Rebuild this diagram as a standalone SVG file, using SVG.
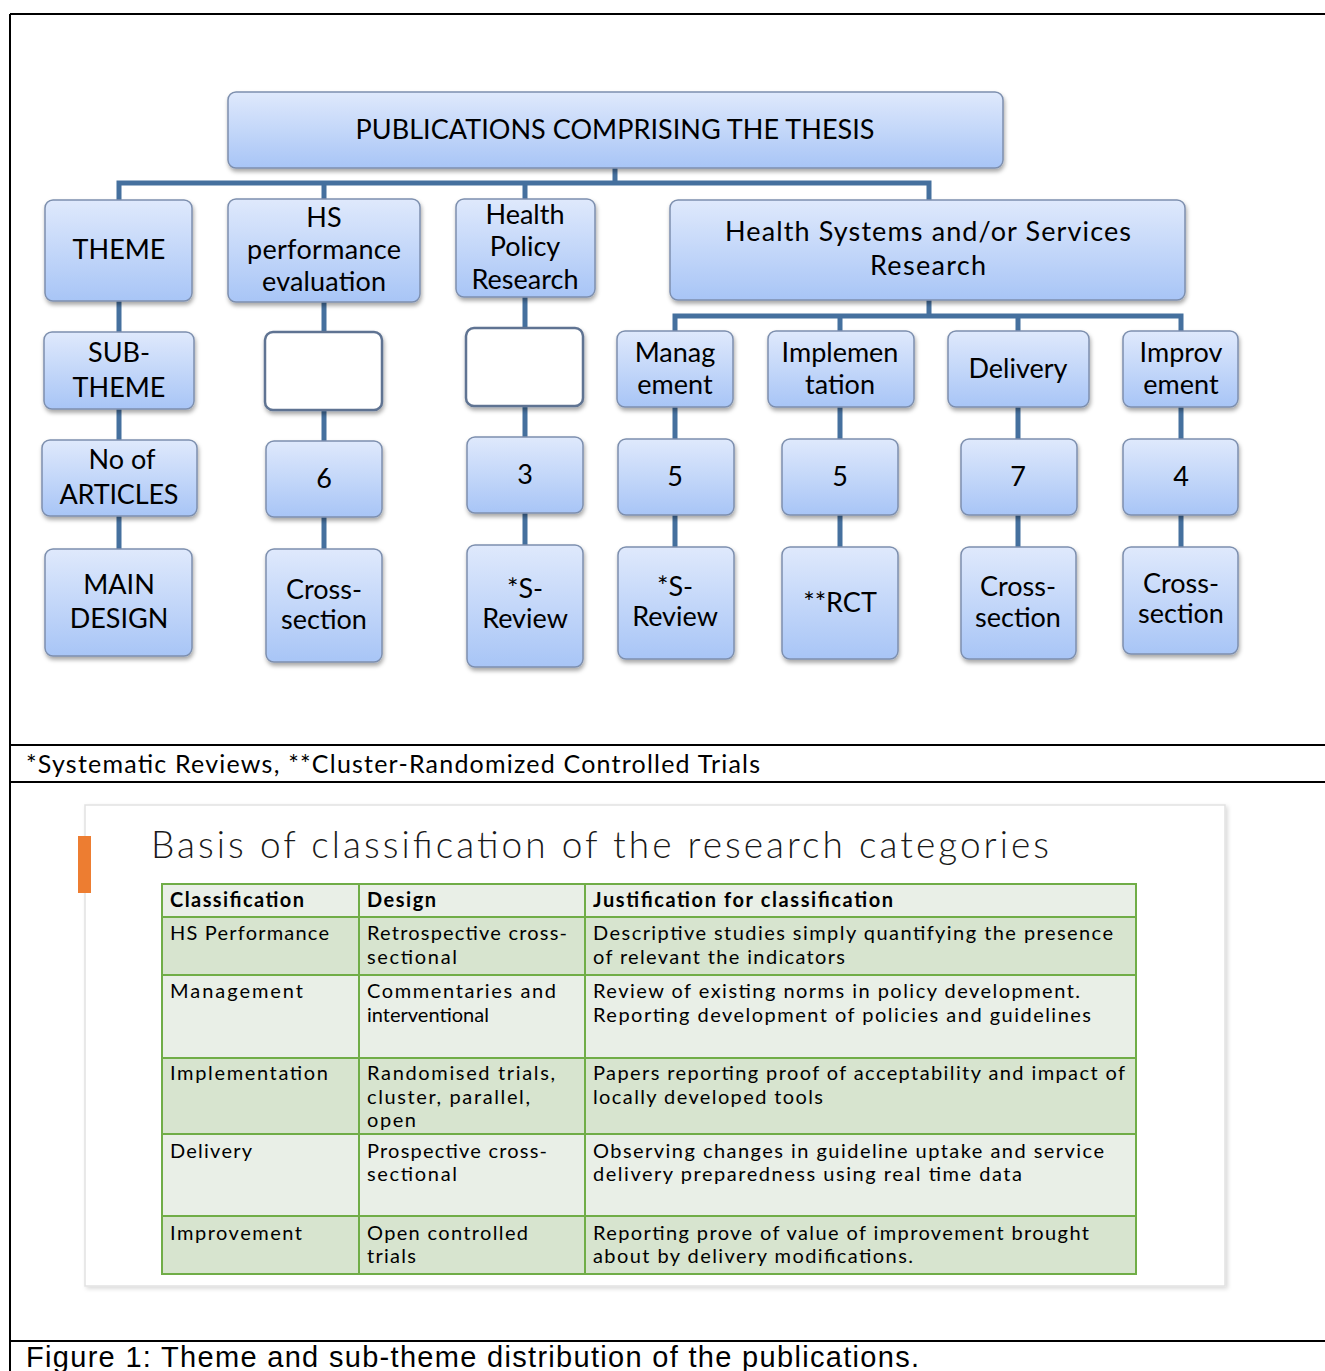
<svg xmlns="http://www.w3.org/2000/svg" width="1325" height="1371" viewBox="0 0 1325 1371">
<defs>
<linearGradient id="bg" x1="0" y1="0" x2="0" y2="1">
<stop offset="0" stop-color="#dfe9fc"/>
<stop offset="1" stop-color="#a8c5f6"/>
</linearGradient>
<filter id="sh" x="-10%" y="-10%" width="130%" height="140%">
<feDropShadow dx="1" dy="3" stdDeviation="2" flood-color="#000" flood-opacity="0.35"/>
</filter>
<filter id="sh2" x="-5%" y="-5%" width="110%" height="110%">
<feDropShadow dx="2" dy="2" stdDeviation="2" flood-color="#000" flood-opacity="0.15"/>
</filter>
<style>
.box{fill:url(#bg);stroke:#7d8fae;stroke-width:1.5;filter:url(#sh)}
.empty{fill:#fff;stroke:#5f7392;stroke-width:2.5;filter:url(#sh)}
.lbl{font-family:Lato,"Open Sans",sans-serif;font-size:27px;fill:#000;text-anchor:middle}
.conn{stroke:#45709e;stroke-width:5;fill:none}
.frame{stroke:#000;stroke-width:2;fill:none}
.td{font-family:Lato,"Open Sans",sans-serif;font-size:20px;fill:#000}
.th{font-family:Lato,"Open Sans",sans-serif;font-size:20px;font-weight:bold;fill:#000}
.grid{stroke:#70ad47;stroke-width:2;fill:none}
</style>
</defs>
<rect width="1325" height="1371" fill="#fff"/>
<g id="frame">
<line class="frame" x1="10" y1="14" x2="1325" y2="14"/>
<line class="frame" x1="10" y1="14" x2="10" y2="1371"/>
<line class="frame" x1="10" y1="745" x2="1325" y2="745"/>
<line class="frame" x1="10" y1="782" x2="1325" y2="782"/>
<line class="frame" x1="10" y1="1341" x2="1325" y2="1341"/>
</g>
<g id="connectors">
<path class="conn" d="M615 168V183M119 200V183H929V200M324 183V199M525 183V199"/>
<path class="conn" d="M119 301V332M324 302V332M525 297V328"/>
<path class="conn" d="M929 300V316M675 331V316H1181V331M840 316V331M1018 316V331"/>
<path class="conn" d="M119 409V440M324 410V441M525 406V437M675 407V439M840 407V439M1018 407V439M1181 407V439"/>
<path class="conn" d="M119 516V549M324 517V549M525 513V545M675 515V547M840 515V547M1018 515V547M1181 515V547"/>
</g>
<g id="n-top"><rect class="box" x="228" y="92" width="775" height="76" rx="8"/><text class="lbl" x="615" y="139" textLength="519">PUBLICATIONS COMPRISING THE THESIS</text></g>
<g id="n-theme"><rect class="box" x="45" y="200" width="147" height="101" rx="8"/><text class="lbl" x="119" y="259">THEME</text></g>
<g id="n-hsperf"><rect class="box" x="228" y="199" width="192" height="103" rx="8"/><text class="lbl" x="324" y="227">HS</text><text class="lbl" x="324" y="259" textLength="154">performance</text><text class="lbl" x="324" y="291" textLength="124">evaluation</text></g>
<g id="n-hpr"><rect class="box" x="456" y="199" width="139" height="98" rx="8"/><text class="lbl" x="525" y="224">Health</text><text class="lbl" x="525" y="256">Policy</text><text class="lbl" x="525" y="289" textLength="107">Research</text></g>
<g id="n-hssr"><rect class="box" x="670" y="200" width="515" height="100" rx="8"/><text class="lbl" x="928" y="241" textLength="406">Health Systems and/or Services</text><text class="lbl" x="928" y="275" textLength="116">Research</text></g>
<g id="n-subtheme"><rect class="box" x="44" y="332" width="150" height="77" rx="8"/><text class="lbl" x="119" y="362">SUB-</text><text class="lbl" x="119" y="397">THEME</text></g>
<g id="n-empty1"><rect class="empty" x="265" y="332" width="117" height="78" rx="8"/></g>
<g id="n-empty2"><rect class="empty" x="466" y="328" width="117" height="78" rx="8"/></g>
<g id="n-manag"><rect class="box" x="617" y="331" width="116" height="76" rx="8"/><text class="lbl" x="675" y="362">Manag</text><text class="lbl" x="675" y="394">ement</text></g>
<g id="n-impl"><rect class="box" x="768" y="331" width="146" height="76" rx="8"/><text class="lbl" x="840" y="362">Implemen</text><text class="lbl" x="840" y="394">tation</text></g>
<g id="n-deliv"><rect class="box" x="948" y="331" width="141" height="76" rx="8"/><text class="lbl" x="1018" y="378">Delivery</text></g>
<g id="n-improv"><rect class="box" x="1123" y="331" width="115" height="76" rx="8"/><text class="lbl" x="1181" y="362">Improv</text><text class="lbl" x="1181" y="394">ement</text></g>
<g id="n-noart"><rect class="box" x="42" y="440" width="155" height="76" rx="8"/><text class="lbl" x="122" y="469">No of</text><text class="lbl" x="119" y="504" textLength="119">ARTICLES</text></g>
<g id="n-c6"><rect class="box" x="266" y="441" width="116" height="76" rx="8"/><text class="lbl" x="324" y="488">6</text></g>
<g id="n-c3"><rect class="box" x="467" y="437" width="116" height="76" rx="8"/><text class="lbl" x="525" y="484">3</text></g>
<g id="n-c5a"><rect class="box" x="618" y="439" width="116" height="76" rx="8"/><text class="lbl" x="675" y="486">5</text></g>
<g id="n-c5b"><rect class="box" x="782" y="439" width="116" height="76" rx="8"/><text class="lbl" x="840" y="486">5</text></g>
<g id="n-c7"><rect class="box" x="961" y="439" width="116" height="76" rx="8"/><text class="lbl" x="1018" y="486">7</text></g>
<g id="n-c4"><rect class="box" x="1123" y="439" width="115" height="76" rx="8"/><text class="lbl" x="1181" y="486">4</text></g>
<g id="n-maindesign"><rect class="box" x="45" y="549" width="147" height="107" rx="8"/><text class="lbl" x="119" y="594">MAIN</text><text class="lbl" x="119" y="628">DESIGN</text></g>
<g id="n-d1"><rect class="box" x="266" y="549" width="116" height="113" rx="8"/><text class="lbl" x="324" y="599">Cross-</text><text class="lbl" x="324" y="629">section</text></g>
<g id="n-d2"><rect class="box" x="467" y="545" width="116" height="122" rx="8"/><text class="lbl" x="525" y="598">*S-</text><text class="lbl" x="525" y="628">Review</text></g>
<g id="n-d3"><rect class="box" x="618" y="547" width="116" height="112" rx="8"/><text class="lbl" x="675" y="596">*S-</text><text class="lbl" x="675" y="626">Review</text></g>
<g id="n-d4"><rect class="box" x="782" y="547" width="116" height="112" rx="8"/><text class="lbl" x="840" y="612">**RCT</text></g>
<g id="n-d5"><rect class="box" x="961" y="547" width="115" height="112" rx="8"/><text class="lbl" x="1018" y="596">Cross-</text><text class="lbl" x="1018" y="627">section</text></g>
<g id="n-d6"><rect class="box" x="1123" y="547" width="115" height="107" rx="8"/><text class="lbl" x="1181" y="593">Cross-</text><text class="lbl" x="1181" y="623">section</text></g>
<text x="26" y="773" font-family="Lato,'Open Sans',sans-serif" font-size="25" textLength="734">*Systematic Reviews, **Cluster-Randomized Controlled Trials</text>
<g id="slide">
<rect x="85" y="805" width="1140" height="481" fill="#fff" stroke="#e2e2e2" stroke-width="1.5" filter="url(#sh2)"/>
<rect x="78" y="836" width="13" height="57" fill="#ed7d31"/>
<text x="151" y="858" font-family="Lato,'Open Sans',sans-serif" font-weight="300" font-size="37" fill="#1a1a1a" textLength="898">Basis of classification of the research categories</text>
<g id="table">
<rect x="162" y="884" width="974" height="33" fill="#e9efe7"/>
<rect x="162" y="917" width="974" height="58" fill="#d7e4cf"/>
<rect x="162" y="975" width="974" height="83" fill="#e9efe7"/>
<rect x="162" y="1058" width="974" height="76" fill="#d7e4cf"/>
<rect x="162" y="1134" width="974" height="82" fill="#e9efe7"/>
<rect x="162" y="1216" width="974" height="58" fill="#d7e4cf"/>
<path class="grid" d="M162 884H1136V1274H162ZM162 917H1136M162 975H1136M162 1058H1136M162 1134H1136M162 1216H1136M359 884V1274M585 884V1274"/>
<text class="th" x="170" y="907" textLength="134">Classification</text>
<text class="th" x="367" y="907" textLength="69">Design</text>
<text class="th" x="593" y="907" textLength="300">Justification for classification</text>
<text class="td" x="170" y="940" textLength="159">HS Performance</text>
<text class="td" x="367" y="940" textLength="200">Retrospective cross-</text>
<text class="td" x="367" y="964" textLength="90">sectional</text>
<text class="td" x="593" y="940" textLength="520">Descriptive studies simply quantifying the presence</text>
<text class="td" x="593" y="964" textLength="252">of relevant the indicators</text>
<text class="td" x="170" y="998" textLength="133">Management</text>
<text class="td" x="367" y="998" textLength="189">Commentaries and</text>
<text class="td" x="367" y="1022">interventional</text>
<text class="td" x="593" y="998" textLength="487">Review of existing norms in policy development.</text>
<text class="td" x="593" y="1022" textLength="498">Reporting development of policies and guidelines</text>
<text class="td" x="170" y="1080" textLength="158">Implementation</text>
<text class="td" x="367" y="1080" textLength="188">Randomised trials,</text>
<text class="td" x="367" y="1104" textLength="163">cluster, parallel,</text>
<text class="td" x="367" y="1127" textLength="49">open</text>
<text class="td" x="593" y="1080" textLength="532">Papers reporting proof of acceptability and impact of</text>
<text class="td" x="593" y="1104" textLength="230">locally developed tools</text>
<text class="td" x="170" y="1158" textLength="82">Delivery</text>
<text class="td" x="367" y="1158" textLength="180">Prospective cross-</text>
<text class="td" x="367" y="1181" textLength="90">sectional</text>
<text class="td" x="593" y="1158" textLength="511">Observing changes in guideline uptake and service</text>
<text class="td" x="593" y="1181" textLength="429">delivery preparedness using real time data</text>
<text class="td" x="170" y="1240" textLength="132">Improvement</text>
<text class="td" x="367" y="1240" textLength="161">Open controlled</text>
<text class="td" x="367" y="1263" textLength="49">trials</text>
<text class="td" x="593" y="1240" textLength="496">Reporting prove of value of improvement brought</text>
<text class="td" x="593" y="1263" textLength="320">about by delivery modifications.</text>
</g>
</g>
<text x="26" y="1367" font-family="'Liberation Sans',Arial,sans-serif" font-size="29" textLength="893">Figure 1: Theme and sub-theme distribution of the publications.</text>
</svg>
